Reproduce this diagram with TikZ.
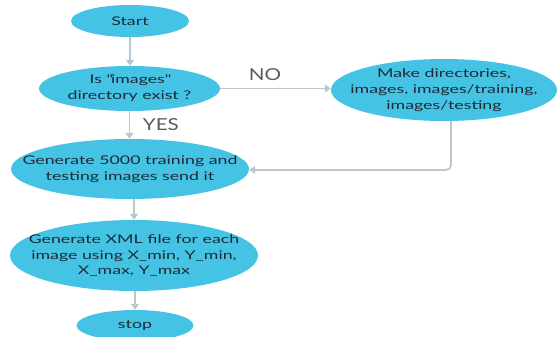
\documentclass[tikz,border=0pt]{standalone}
\usepackage{fontspec}
\setmainfont{Lato}[FakeStretch=1.48]
\newfontfamily\labfont{Lato}[FakeStretch=1.25]
\usetikzlibrary{shapes.geometric,arrows.meta}
\definecolor{fillc}{HTML}{45C3E5}
\definecolor{linec}{HTML}{B9C8D0}
\definecolor{textc}{HTML}{1E2B36}
\definecolor{labc}{HTML}{555B60}
\begin{document}
\begin{tikzpicture}[x=1pt,y=-1pt,
  blob/.style={ellipse,fill=fillc,draw=none,inner sep=-200pt,text=textc,align=center,
    font=\fontsize{12}{15.8}\selectfont},
  conn/.style={draw=linec,line width=1.8pt,-{Triangle[width=8pt,length=6pt]}},
  lab/.style={text=labc,font=\labfont\fontsize{16.5}{18}\selectfont,inner sep=0pt}]
\useasboundingbox (0,0) rectangle (560,337);
\node[blob,minimum width=118pt,minimum height=32pt] (start) at (130,21) {Start};
\node[blob,minimum width=181pt,minimum height=45pt] (dec) at (129.5,88.5) {Is \textquotedbl images\textquotedbl\\directory exist ?};
\node[blob,minimum width=226pt,minimum height=62pt] (make) at (444,90) {Make directories,\\images, images/training,\\images/testing};
\node[blob,minimum width=238pt,minimum height=60pt] (gen) at (130,169) {Generate 5000 training and\\testing images send it};
\node[blob,minimum width=248pt,minimum height=71pt] (xml) at (134,255.5) {Generate XML file for each\\image using X\_min, Y\_min,\\X\_max, Y\_max};
\node[blob,minimum width=117pt,minimum height=31pt] (stop) at (135,325.5) {stop};
\draw[conn] (start.south) -- (start.south |- dec.north);
\draw[conn] (dec.south) -- (dec.south |- gen.north) node[lab,anchor=west] at (142,125) {YES};
\draw[conn] (dec.east) -- (make.west |- dec.east) node[lab] at (265,75) {NO};
\coordinate (bend) at (451,170);
\draw[conn,rounded corners=5pt] (make.south -| bend) -- (bend) -- (gen.east |- bend);
\draw[conn] (gen.south -| xml) -- (xml.north);
\draw[conn] (xml.south -| stop) -- (stop.north);
\end{tikzpicture}
\end{document}
